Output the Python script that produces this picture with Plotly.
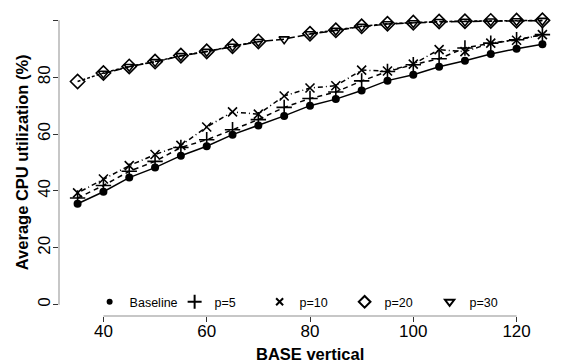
import plotly.graph_objects as go

x_vals = [35, 40, 45, 50, 55, 60, 65, 70, 75, 80, 85, 90, 95, 100, 105, 110, 115, 120, 125]
baseline = [35.5, 39.7, 44.7, 48.2, 52.4, 55.7, 59.8, 63.0, 66.4, 70.0, 72.3, 75.3, 78.8, 80.9, 83.7, 85.8, 88.2, 90.0, 91.6]
p5 = [37.5, 41.9, 46.9, 50.4, 55.3, 58.0, 61.5, 65.1, 69.4, 72.5, 74.8, 78.7, 82.0, 84.4, 86.5, 90.3, 92.0, 93.2, 95.0]
p10 = [39.3, 44.2, 48.9, 52.8, 56.0, 62.5, 67.8, 67.0, 73.4, 76.2, 77.0, 82.5, 82.2, 84.6, 89.7, 89.0, 92.0, 93.0, 95.0]
p20 = [78.5, 81.5, 83.8, 85.5, 87.6, 89.1, 90.9, 92.6, None, 95.3, 96.5, 97.9, 98.8, 99.2, 99.6, 99.7, 99.8, 99.9, 100.0]
p30 = [None, 81.3, 83.7, 85.4, 87.5, 89.0, 90.8, 92.5, 93.4, 95.2, 96.4, 97.8, 98.7, 99.1, 99.5, 99.6, 99.7, 99.8, 99.9]

series_names = ["Baseline", "p=5", "p=10", "p=20", "p=30"]
series_data = [baseline, p5, p10, p20, p30]
x_ticks = [40, 60, 80, 100, 120]
y_ticks = [0, 20, 40, 60, 80, 100]

FONT = "Liberation Sans, Arial, sans-serif"

styles = [
    dict(symbol="circle", size=8, dash="solid", lw=0, leg_size=6),
    dict(symbol="cross-thin", size=11, dash="5px,4px", lw=1.6, leg_size=10),
    dict(symbol="x-thin", size=9, dash="1px,3px,5px,3px", lw=1.6, leg_size=7),
    dict(symbol="diamond-open", size=11, dash="3px,2px", lw=1.6, leg_size=9),
    dict(symbol="triangle-down-open", size=9, dash="8px,3px", lw=1.6, leg_size=8),
]

fig = go.Figure()
for name, data, st in zip(series_names, series_data, styles):
    fig.add_trace(go.Scatter(
        x=x_vals, y=data, mode="lines+markers", name=name, showlegend=False,
        connectgaps=False,
        line=dict(color="black", width=1.5, dash=st["dash"]),
        marker=dict(symbol=st["symbol"], size=st["size"], color="black",
                    line=dict(color="black", width=st["lw"])),
    ))
for name, st in zip(series_names, styles):
    fig.add_trace(go.Scatter(
        x=[None], y=[None], mode="markers", name=name, showlegend=True,
        marker=dict(symbol=st["symbol"], size=st["leg_size"], color="black",
                    line=dict(color="black", width=st["lw"] + 0.4 if st["lw"] else 0)),
    ))

# The page body has an 8px margin; the figure is sized and offset to compensate.
fig.update_layout(
    width=557, height=355,
    margin=dict(l=50.8, r=3.6, t=1.3, b=46.6),
    paper_bgcolor="white", plot_bgcolor="white",
    font=dict(family=FONT, color="black"),
    showlegend=True,
    legend=dict(orientation="h", x=0.061, y=0.045, xanchor="left", yanchor="middle",
                bgcolor="rgba(0,0,0,0)", font=dict(size=12.5, family=FONT),
                entrywidth=40, entrywidthmode="pixels", itemwidth=30,
                tracegroupgap=0),
    xaxis=dict(range=[31.4, 128.6], tickvals=x_ticks, ticks="outside", ticklen=5,
               tickcolor="#333", tickwidth=1, showline=False, showgrid=False,
               zeroline=False, tickfont=dict(size=17, family=FONT), ticklabelstandoff=-5),
    yaxis=dict(range=[-4, 104], tickvals=y_ticks, ticks="outside", ticklen=5,
               tickcolor="#333", tickwidth=1, showline=False, showgrid=False,
               zeroline=False, tickangle=-90, tickfont=dict(size=17, family=FONT),
               ticklabelstandoff=-4),
    shapes=[
        dict(type="line", xref="x", yref="paper", x0=40, x1=120, y0=0, y1=0,
             line=dict(color="#b5b5b5", width=1.5)),
        dict(type="line", xref="paper", yref="y", x0=0, x1=0, y0=0, y1=100,
             line=dict(color="#b5b5b5", width=1.5)),
    ],
    annotations=[
        dict(text="<b>BASE vertical</b>", xref="paper", yref="paper", x=0.5, y=-0.124,
             xanchor="center", yanchor="middle", showarrow=False,
             font=dict(size=16.5, family=FONT)),
        dict(text="<b>Average CPU utilization (%)</b>", xref="paper", yref="paper",
             x=-0.0743, y=0.5, xanchor="center", yanchor="middle", textangle=-90,
             showarrow=False, font=dict(size=16.5, family=FONT)),
    ],
)

fig.write_html("out.html")
